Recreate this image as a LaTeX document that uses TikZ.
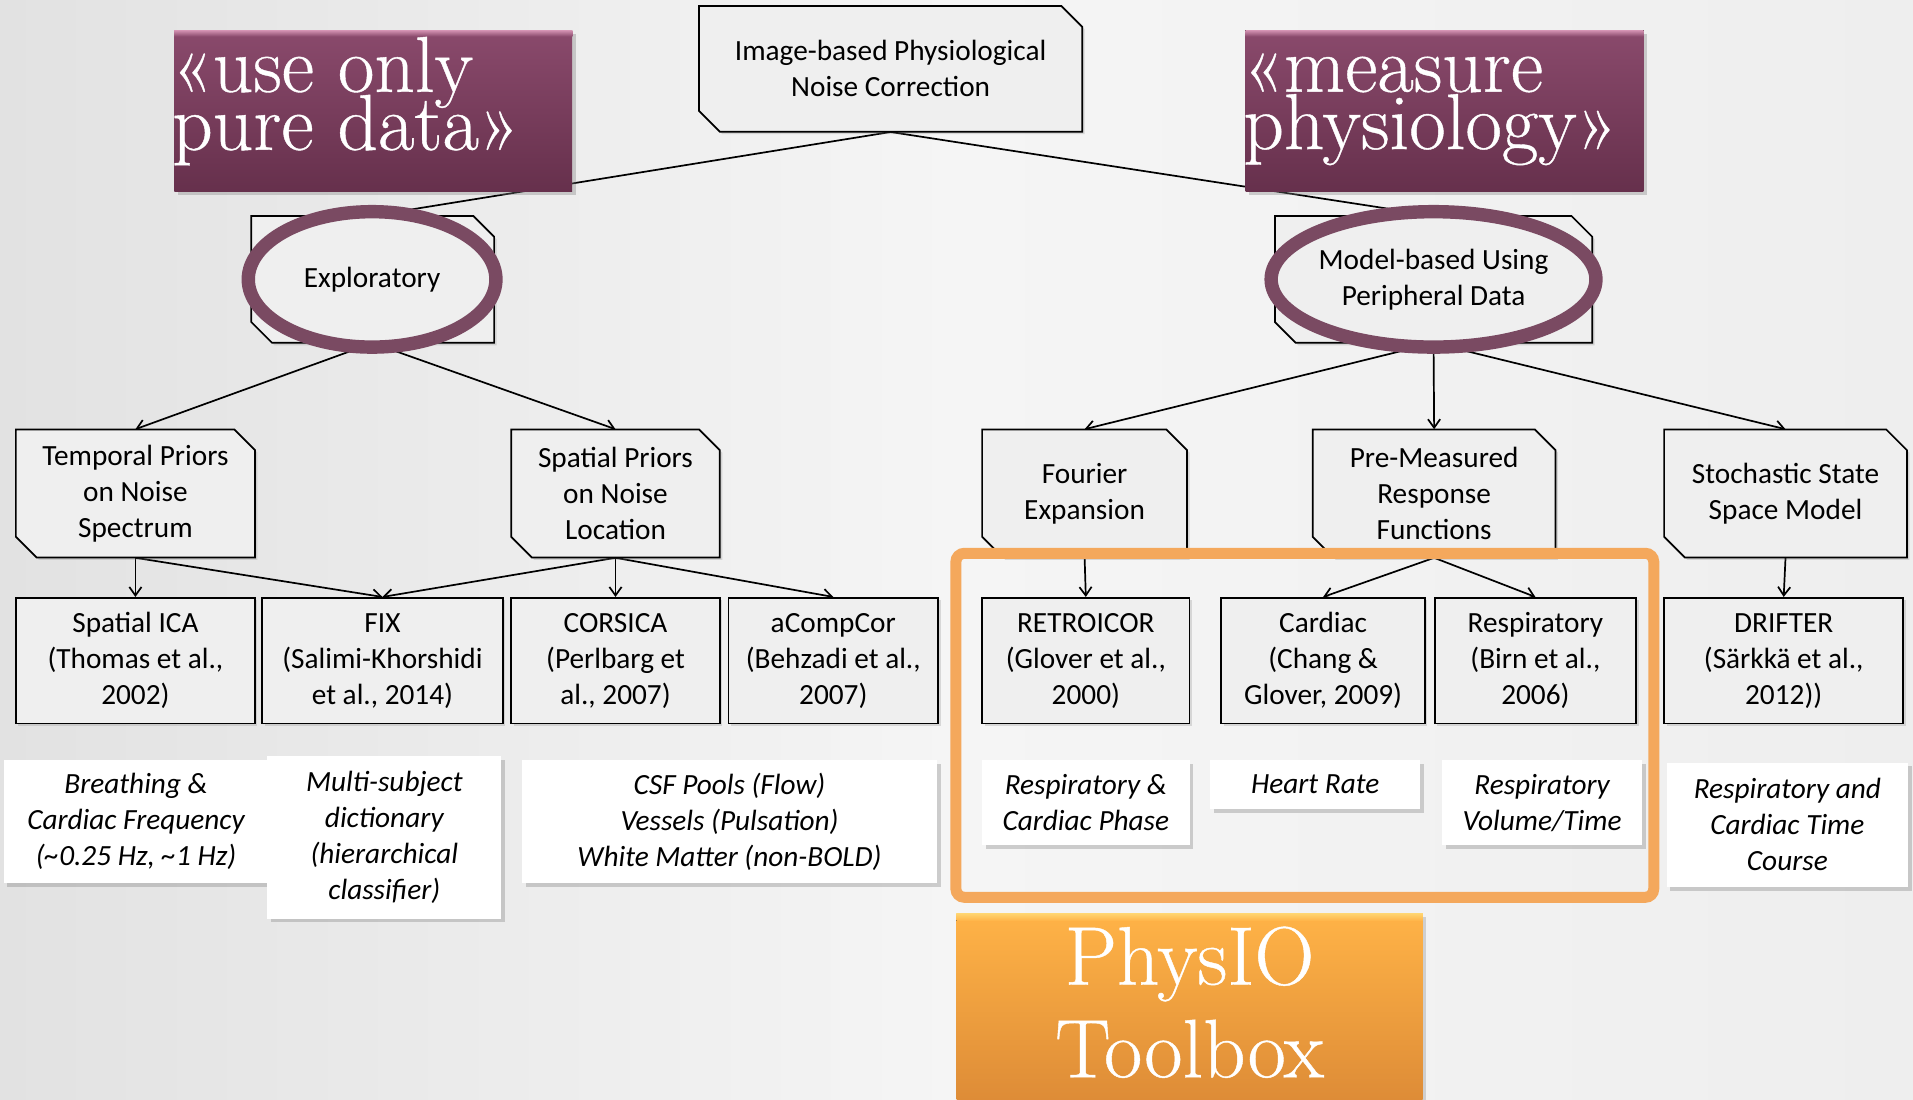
\documentclass[tikz,border=0pt]{standalone}
\usepackage{fontspec}
\newfontfamily\calib{Carlito}
\newfontfamily\garam{Latin Modern Roman}[FakeBold=0.5]
\usetikzlibrary{arrows.meta,shapes.geometric,shadows}
\definecolor{bgL}{HTML}{E2E2E2}
\definecolor{bgM}{HTML}{F5F5F5}
\definecolor{bgR}{HTML}{EEEEEE}
\definecolor{plum}{HTML}{7A4A62}
\definecolor{plumTop}{HTML}{8A4A6C}
\definecolor{plumBot}{HTML}{66304C}
\definecolor{plumHi}{HTML}{D392B2}
\definecolor{orFrame}{HTML}{F4A85C}
\definecolor{orTop}{HTML}{FFB347}
\definecolor{orBot}{HTML}{DC8A36}
\definecolor{orHi}{HTML}{FFD470}
\definecolor{boxfill}{HTML}{EFEFEF}
\pgfdeclarelayer{back}
\pgfdeclarelayer{lines}
\pgfsetlayers{back,lines,main}
\tikzset{
  txt/.style={font=\calib\fontsize{24}{29.5}\selectfont, align=center, inner sep=0pt},
  notetxt/.style={font=\calib\itshape\fontsize{24}{29.5}\selectfont, align=center, inner sep=0pt,
    fill=white, drop shadow={opacity=0.35, shadow xshift=3pt, shadow yshift=-3pt}},
  conn/.style={line width=1.4pt, draw=black},
  arr/.style={conn, -{Straight Barb[length=7pt,width=10pt,line width=1.4pt]}},
  boxline/.style={draw=black, line width=1.4pt, fill=boxfill,
    drop shadow={opacity=0.25, shadow xshift=2pt, shadow yshift=-2pt}},
  rectbox/.style={txt, draw=black, line width=1.4pt, fill=boxfill,
    drop shadow={opacity=0.25, shadow xshift=2pt, shadow yshift=-2pt}},
  ring/.style={txt, draw=plum, line width=11pt, ellipse},
  bigserif/.style={text=white, inner sep=0pt, align=left,
    font=\garam\fontsize{65}{47}\selectfont},
  toolserif/.style={text=white, inner sep=0pt, font=\garam\fontsize{68}{68}\selectfont},
  purplebox/.style={inner sep=0pt, top color=plumTop, bottom color=plumBot,
    drop shadow={opacity=0.35, shadow xshift=3pt, shadow yshift=-3pt}},
}
\newcommand\mysnip[6]{%
  \path[boxline] (#2,#3) -- ({#4-17},#3) -- (#4,{#3+17}) -- (#4,#5) -- ({#2+17},#5) -- (#2,{#5-17}) -- cycle;
  \node[txt, minimum width={(#4-#2)*1pt}, minimum height={(#5-#3)*1pt}] (#1) at ({(#2+#4)/2},{(#3+#5)/2}) {#6};
}
\newcommand\myrect[6]{%
  \node[rectbox, minimum width={(#4-#2)*1pt}, minimum height={(#5-#3)*1pt}] (#1) at ({(#2+#4)/2},{(#3+#5)/2}) {#6};
}
\newcommand\mynote[6]{%
  \node[notetxt, minimum width={(#4-#2)*1pt}, minimum height={(#5-#3)*1pt}] (#1) at ({(#2+#4)/2},{(#3+#5)/2}) {#6};
}
\begin{document}
\begin{tikzpicture}[x=1pt,y=-1pt]
\useasboundingbox (0,0) rectangle (1568,901);
\begin{pgfonlayer}{back}
  \fill[left color=bgL, right color=bgR, middle color=bgM] (0,0) rectangle (1568,901);
\end{pgfonlayer}

% row 1
\mysnip{top}{573}{5}{887}{108}{Image-based Physiological\\Noise Correction}
\mysnip{explB}{206}{177}{405}{281}{}
\mysnip{modelB}{1045}{177}{1305}{281}{}

% row 2
\mysnip{temp}{13}{352}{209}{457}{Temporal Priors\\on Noise\\Spectrum}
\mysnip{spat}{419}{352}{590}{457}{Spatial Priors\\on Noise\\Location}
\mysnip{four}{805}{352}{973}{457}{Fourier\\Expansion}
\mysnip{prem}{1076}{352}{1275}{457}{Pre-Measured\\Response\\Functions}
\mysnip{stoch}{1364}{352}{1563}{457}{Stochastic State\\Space Model}

% row 3
\myrect{sica}{13}{490}{209}{593}{Spatial ICA\\(Thomas et al.,\\2002)}
\myrect{fix}{215}{490}{412}{593}{FIX\\(Salimi-Khorshidi\\et al., 2014)}
\myrect{cors}{419}{490}{590}{593}{CORSICA\\(Perlbarg et\\al., 2007)}
\myrect{acomp}{597}{490}{769}{593}{aCompCor\\(Behzadi et al.,\\2007)}
\myrect{retro}{805}{490}{975}{593}{RETROICOR\\(Glover et al.,\\2000)}
\myrect{card}{1001}{490}{1168}{593}{Cardiac\\(Chang \&\\Glover, 2009)}
\myrect{resp}{1176}{490}{1341}{593}{Respiratory\\(Birn et al.,\\2006)}
\myrect{drift}{1364}{490}{1560}{593}{DRIFTER\\(Särkkä et al.,\\2012))}

% notes
\mynote{n1}{3}{623}{220}{724}{Breathing \&\\Cardiac Frequency\\(\textasciitilde0.25 Hz, \textasciitilde1 Hz)}
\mynote{n2}{219}{620}{411}{753}{Multi-subject\\dictionary\\(hierarchical\\classifier)}
\mynote{n3}{428}{623}{768}{724}{CSF Pools (Flow)\\Vessels (Pulsation)\\White Matter (non-BOLD)}
\mynote{n4}{805}{623}{975}{693}{Respiratory \&\\Cardiac Phase}
\mynote{n5}{992}{623}{1164}{663}{Heart Rate}
\mynote{n6}{1182}{623}{1346}{693}{Respiratory\\Volume/Time}
\mynote{n7}{1366}{625}{1564}{727}{Respiratory and\\Cardiac Time\\Course}

% purple label boxes
\node[purplebox, minimum width=326pt, minimum height=132pt] (pure) at (306,91) {};
\fill[top color=plumHi, bottom color=plumTop] (pure.north west) rectangle ([yshift=-5pt]pure.north east);
\node[bigserif, anchor=north west] (pureT) at (141,30) {\rule{0pt}{45pt}«use only\\[-11.8pt]pure data»};

\node[purplebox, minimum width=326pt, minimum height=132pt] (meas) at (1184,91) {};
\fill[top color=plumHi, bottom color=plumTop] (meas.north west) rectangle ([yshift=-5pt]meas.north east);
\node[bigserif, anchor=north west] (measT) at (1019,30) {\rule{0pt}{45pt}«measure\\physiology»};

% rings
\node[ring, minimum width=203pt, minimum height=111pt] (expl) at (305,229) {Exploratory};
\node[ring, minimum width=261pt, minimum height=111pt] (model) at (1175,229) {Model-based Using\\Peripheral Data};

% orange frame
\node[draw=orFrame, line width=9pt, rounded corners=7pt, minimum width=572pt, minimum height=282pt, inner sep=0pt] (frame) at (1069.5,594.5) {};

% toolbox
\node[inner sep=0pt, minimum width=382pt, minimum height=160pt, top color=orTop, bottom color=orBot,
  drop shadow={opacity=0.3, shadow xshift=3pt, shadow yshift=-3pt}] (tbox) at (975,829) {};
\fill[top color=orHi, bottom color=orTop] (tbox.north west) rectangle ([yshift=-6pt]tbox.north east);
\node[toolserif, anchor=base] (physA) at (975,807) {PhysIO};
\node[toolserif, anchor=base] (physB) at (975,883) {Toolbox};

% connectors
\begin{pgfonlayer}{lines}
  \draw[conn] (top.south) -- (explB.north);
  \draw[conn] (top.south) -- (modelB.north);
  \draw[arr] (explB.south) -- (temp.north);
  \draw[arr] (explB.south) -- (spat.north);
  \draw[arr] (modelB.south) -- (four.north);
  \draw[arr] (modelB.south) -- (prem.north);
  \draw[arr] (modelB.south) -- (stoch.north);
  \draw[arr] (temp.south) -- (sica.north);
  \draw[arr] (temp.south) -- (fix.north);
  \draw[arr] (spat.south) -- (fix.north);
  \draw[arr] (spat.south) -- (cors.north);
  \draw[arr] (spat.south) -- (acomp.north);
  \draw[arr] (four.south) -- (retro.north);
  \draw[arr] (prem.south) -- (card.north);
  \draw[arr] (prem.south) -- (resp.north);
  \draw[arr] (stoch.south) -- (drift.north);
\end{pgfonlayer}
\end{tikzpicture}
\end{document}
